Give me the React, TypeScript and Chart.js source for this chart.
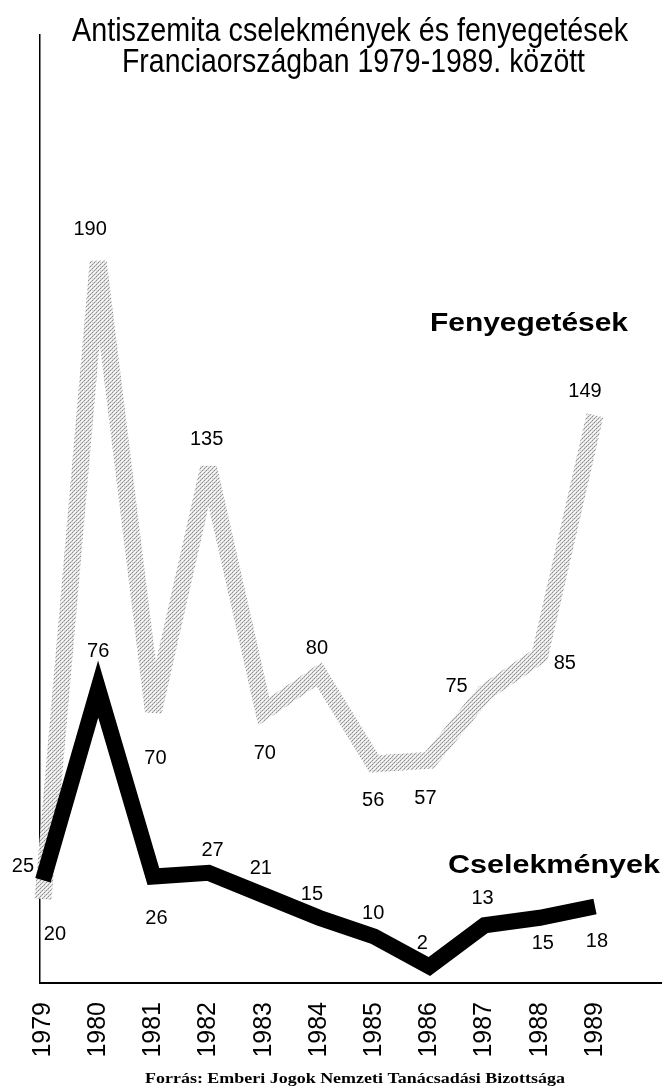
import React, { useEffect, useRef } from 'react';
import { Chart, registerables } from 'chart.js';

Chart.register(...registerables);

const years = [1979, 1980, 1981, 1982, 1983, 1984, 1985, 1986, 1987, 1988, 1989];
const cselekmenyek = [25, 76, 26, 27, 21, 15, 10, 2, 13, 15, 18];
const fenyegetesek = [20, 190, 70, 135, 70, 80, 56, 57, 75, 85, 149];
const fenyegetesekLabels = ['20', '190', '70', '135', '70', '80', '56', '57', '75', '85', '149'];
const cselekmenyekLabels = ['25', '76', '26', '27', '21', '15', '10', '2', '13', '15', '18'];

const titleLines = ['Antiszemita cselekmények és fenyegetések', 'Franciaországban 1979-1989. között'];
const seriesNames = ['Cselekmények', 'Fenyegetések'];
const sourceText = 'Forrás: Emberi Jogok Nemzeti Tanácsadási Bizottsága';

// label placement relative to each point (dx, dy)
const cselLabelOffsets = [[-20, -14], [0, -38], [3, 42], [4, -22], [-3, -27], [-7, -23], [-1, -23], [-7, -23], [-2, -27], [3, 26], [2, 35]];
const fenyLabelOffsets = [[12, 35], [-8, -32], [2, 47], [-2, -28], [1, 42], [-2, -26], [-1, 36], [-4, 38], [-28, -6], [25, 8], [-10, -24]];

const W = 662;
const H = 1090;

function makePattern(): CanvasPattern | string {
  const c = document.createElement('canvas');
  c.width = 4;
  c.height = 4;
  const g = c.getContext('2d');
  if (!g) return '#cccccc';
  g.fillStyle = '#e2e2e2';
  g.fillRect(0, 0, 4, 4);
  g.fillStyle = '#8e8e8e';
  g.fillRect(0, 0, 1, 1);
  g.fillRect(2, 2, 1, 1);
  g.fillStyle = '#b0b0b0';
  g.fillRect(3, 1, 1, 1);
  g.fillRect(1, 3, 1, 1);
  g.fillStyle = '#ffffff';
  g.fillRect(1, 1, 1, 1);
  g.fillRect(3, 3, 1, 1);
  g.fillRect(2, 0, 1, 1);
  const p = g.createPattern(c, 'repeat');
  return p || '#cccccc';
}

function fitText(ctx: CanvasRenderingContext2D, text: string, left: number, baseline: number, width: number, font: string) {
  ctx.save();
  ctx.font = font;
  const w = ctx.measureText(text).width;
  const s = width / w;
  ctx.translate(left, baseline);
  ctx.scale(s, 1);
  ctx.textAlign = 'left';
  ctx.textBaseline = 'alphabetic';
  ctx.fillStyle = '#000';
  ctx.fillText(text, 0, 0);
  ctx.restore();
}

const textPlugin = {
  id: 'texts',
  beforeDatasetDraw(chart: any, args: any) {
    chart.ctx.miterLimit = args.index === 1 ? 2.5 : 10;
  },
  afterDraw(chart: any) {
    const ctx = chart.ctx as CanvasRenderingContext2D;
    // title
    fitText(ctx, titleLines[0], 72, 41, 556, '33px "Liberation Sans"');
    fitText(ctx, titleLines[1], 122, 72, 463, '33px "Liberation Sans"');
    // series names
    fitText(ctx, seriesNames[1], 430, 331, 198, 'bold 26px "Liberation Sans"');
    fitText(ctx, seriesNames[0], 448, 873, 212, 'bold 26px "Liberation Sans"');
    // source
    fitText(ctx, sourceText, 145, 1083, 420, 'bold 15px "Liberation Serif"');

    // data labels
    ctx.save();
    ctx.font = '20px "Liberation Sans"';
    ctx.fillStyle = '#000';
    ctx.textAlign = 'center';
    ctx.textBaseline = 'middle';
    const sets = [
      { meta: chart.getDatasetMeta(0), labels: cselekmenyekLabels, offs: cselLabelOffsets },
      { meta: chart.getDatasetMeta(1), labels: fenyegetesekLabels, offs: fenyLabelOffsets },
    ];
    sets.forEach(({ meta, labels, offs }) => {
      meta.data.forEach((pt: any, i: number) => {
        ctx.fillText(labels[i], pt.x + offs[i][0], pt.y + offs[i][1]);
      });
    });
    ctx.restore();
  },
};

export default function App() {
  const ref = useRef<HTMLCanvasElement>(null);

  useEffect(() => {
    if (!ref.current) return;
    const grey = makePattern();
    const chart = new Chart(ref.current, {
      type: 'line',
      data: {
        datasets: [
          {
            label: seriesNames[0],
            data: years.map((y, i) => ({ x: y, y: cselekmenyek[i] })),
            borderColor: '#000',
            borderWidth: 16,
            pointRadius: 0,
            tension: 0,
            borderJoinStyle: 'miter',
            clip: false,
          },
          {
            label: seriesNames[1],
            data: years.map((y, i) => ({ x: y, y: fenyegetesek[i] })),
            borderColor: grey as any,
            borderWidth: 17,
            pointRadius: 0,
            tension: 0,
            borderJoinStyle: 'miter',
            clip: false,
          },
        ],
      },
      options: {
        animation: false,
        responsive: false,
        devicePixelRatio: 1,
        layout: { padding: { top: 35, left: 40, right: 0, bottom: 0 } },
        plugins: {
          legend: { display: false },
          tooltip: { enabled: false },
          title: { display: false },
        },
        scales: {
          x: {
            type: 'linear',
            min: 1978.946,
            max: 1990.214,
            grid: { display: false, drawTicks: false },
            border: { display: true, color: '#000', width: 2 },
            afterBuildTicks: (axis: any) => {
              axis.ticks = years.map((v) => ({ value: v }));
            },
            afterFit: (axis: any) => {
              axis.height = 107;
            },
            ticks: {
              autoSkip: false,
              minRotation: 90,
              maxRotation: 90,
              padding: 19,
              color: '#000',
              font: { family: '"Liberation Sans"', size: 25 },
              callback: (v: any) => String(v),
            },
          },
          y: {
            type: 'linear',
            min: -2.4,
            max: 250.4,
            grid: { display: false, drawTicks: false },
            border: { display: true, color: '#000', width: 1.5 },
            ticks: { display: false },
            afterFit: (axis: any) => {
              axis.width = 0;
            },
          },
        },
      },
      plugins: [textPlugin],
    });
    return () => chart.destroy();
  }, []);

  return (
    <div style={{ position: 'absolute', left: 0, top: 0, width: W, height: H, background: '#fff' }}>
      <canvas ref={ref} width={W} height={H} style={{ width: W, height: H, display: 'block' }} />
    </div>
  );
}
